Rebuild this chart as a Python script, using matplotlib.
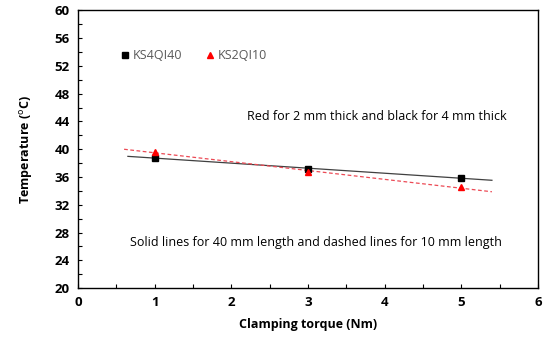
import numpy as np
import matplotlib.pyplot as plt
from matplotlib.ticker import MultipleLocator

plt.rcParams['font.family'] = ['Open Sans', 'DejaVu Sans']

torque = [1, 3, 5]
temp_ks4 = [38.8, 37.1, 35.9]
temp_ks2 = [39.6, 36.7, 34.5]

fig = plt.figure(figsize=(5.5, 3.43), dpi=100)
ax = fig.add_axes([0.142, 0.16, 0.836, 0.81])

# trendlines (linear fits)
xs = np.array([0.65, 5.4])
p4 = np.polyfit(torque, temp_ks4, 1)
ax.plot(xs, np.polyval(p4, xs), color='#404040', lw=0.9, zorder=2)
xs2 = np.array([0.6, 5.4])
p2 = np.polyfit(torque, temp_ks2, 1)
ax.plot(xs2, np.polyval(p2, xs2), color='#ec4a55', lw=0.9, ls=(0, (3, 2)), zorder=2)

ax.plot(torque, temp_ks4, 's', color='black', ms=5, zorder=3, label='KS4QI40')
ax.plot(torque, temp_ks2, '^', color='red', ms=5, zorder=4, label='KS2QI10')

ax.set_xlim(0, 6)
ax.set_ylim(20, 60)
ax.xaxis.set_major_locator(MultipleLocator(1))
ax.xaxis.set_minor_locator(MultipleLocator(0.5))
ax.yaxis.set_major_locator(MultipleLocator(4))
ax.yaxis.set_minor_locator(MultipleLocator(2))
ax.tick_params(which='both', direction='in', length=3, width=0.8)
ax.tick_params(which='major', labelsize=9.5, pad=6)
for lab in ax.get_xticklabels() + ax.get_yticklabels():
    lab.set_fontweight('bold')
for s in ax.spines.values():
    s.set_linewidth(1.0)

ax.set_xlabel('Clamping torque (Nm)', fontsize=9, fontweight='bold', labelpad=6)
ax.set_ylabel('Temperature ($^{\\mathrm{o}}$C)', fontsize=9, fontweight='bold', labelpad=14)

ax.legend(loc='upper left', bbox_to_anchor=(0.07, 0.9), ncol=2, frameon=False,
          fontsize=9, handlelength=0.6, handletextpad=0.3, columnspacing=1.9,
          labelcolor='#595959', markerscale=1.0)

ax.text(3.9, 44.7, 'Red for 2 mm thick and black for 4 mm thick',
        ha='center', va='center', fontsize=9)
ax.text(3.1, 26.5, 'Solid lines for 40 mm length and dashed lines for 10 mm length',
        ha='center', va='center', fontsize=9)

fig.savefig('out.png', dpi=100, facecolor='white')
